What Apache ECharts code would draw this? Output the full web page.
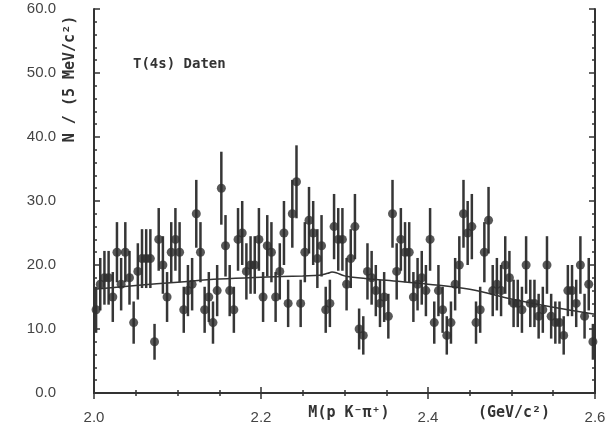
<!DOCTYPE html>
<html><head><meta charset="utf-8">
<script src="https://cdn.jsdelivr.net/npm/echarts@6/dist/echarts.min.js"></script>
<style>html,body{margin:0;padding:0;background:#fff}#c{width:610px;height:430px}</style>
</head><body><div id="c"></div>
<script>
// bin: 5 MeV, from 2.000 to 2.600 GeV
const binStart = 2.0;
const binWidth = 0.005;
const counts = [
13,17,18,18,15,22,17,22,18,11,
19,21,21,21,8,24,20,15,22,24,
22,13,16,17,28,22,13,15,11,16,
32,23,16,13,24,25,19,20,20,24,
15,23,22,15,19,25,14,28,33,14,
22,27,25,21,23,13,14,26,24,24,
17,21,26,10,9,19,18,16,14,15,
12,28,19,24,22,22,15,17,18,16,
24,11,16,13,9,11,17,20,28,25,
26,11,13,22,27,16,17,16,20,18,
14,14,13,20,14,14,12,13,20,12,
11,11,9,16,16,14,20,12,17,8];
const errors = [
3.6,4.1,4.2,4.2,3.9,4.7,4.1,4.7,4.2,3.3,
4.4,4.6,4.6,4.6,2.8,4.9,4.5,3.9,4.7,4.9,
4.7,3.6,4.0,4.1,5.3,4.7,3.6,3.9,3.3,4.0,
5.7,4.8,4.0,3.6,4.9,5.0,4.4,4.5,4.5,4.9,
3.9,4.8,4.7,3.9,4.4,5.0,3.7,5.3,5.7,3.7,
4.7,5.2,5.0,4.6,4.8,3.6,3.7,5.1,4.9,4.9,
4.1,4.6,5.1,3.2,3.0,4.4,4.2,4.0,3.7,3.9,
3.5,5.3,4.4,4.9,4.7,4.7,3.9,4.1,4.2,4.0,
4.9,3.3,4.0,3.6,3.0,3.3,4.1,4.5,5.3,5.0,
5.1,3.3,3.6,4.7,5.2,4.0,4.1,4.0,4.5,4.2,
3.7,3.7,3.6,4.5,3.7,3.7,3.5,3.6,4.5,3.5,
3.3,3.3,3.0,4.0,4.0,3.7,4.5,3.5,4.1,2.8];
// fitted background curve
const fitX = [2.0, 2.05, 2.1, 2.15, 2.2, 2.25, 2.27, 2.28, 2.285, 2.29, 2.30, 2.31, 2.35, 2.40, 2.45, 2.50, 2.55, 2.60];
const fitY = [16.2, 16.8, 17.3, 17.8, 18.1, 18.3, 18.4, 18.7, 18.9, 18.8, 18.3, 18.1, 17.6, 17.0, 16.2, 14.7, 13.4, 12.3];
const xTicks = [2.0, 2.2, 2.4, 2.6];
const yTicks = [0, 10, 20, 30, 40, 50, 60];

const pts = counts.map((v, i) => [+(binStart + binWidth * (i + 0.5)).toFixed(4), v, errors[i]]);
const fit = fitX.map((x, i) => [x, fitY[i]]);

const axisCol = '#333';
const labelFont = {fontFamily: 'Liberation Sans', fontSize: 15, color: '#444'};
const monoFont = 'bold 14px "DejaVu Sans Mono"';
const chart = echarts.init(document.getElementById('c'), null, {renderer: 'canvas'});
chart.setOption({
  animation: false,
  backgroundColor: '#fff',
  grid: {left: 94, right: 15, top: 9, bottom: 37},
  xAxis: [{
    type: 'value', min: xTicks[0], max: xTicks[xTicks.length - 1], interval: 0.2,
    axisLine: {lineStyle: {color: axisCol, width: 2}},
    axisTick: {inside: true, length: 6, lineStyle: {color: axisCol, width: 1.5}},
    minorTick: {show: true, splitNumber: 4, length: 3, lineStyle: {color: axisCol, width: 1.5}},
    splitLine: {show: false},
    axisLabel: Object.assign({margin: 17, formatter: v => v.toFixed(1)}, labelFont)
  }, {
    type: 'value', position: 'top', min: xTicks[0], max: xTicks[xTicks.length - 1], interval: 0.2,
    axisLine: {show: true, lineStyle: {color: axisCol, width: 2}},
    axisTick: {inside: true, length: 6, lineStyle: {color: axisCol, width: 1.5}},
    minorTick: {show: true, splitNumber: 4, length: 3, lineStyle: {color: axisCol, width: 1.5}},
    splitLine: {show: false}, axisLabel: {show: false}
  }],
  yAxis: [{
    type: 'value', min: yTicks[0], max: yTicks[yTicks.length - 1], interval: 10,
    axisLine: {show: true, lineStyle: {color: axisCol, width: 2}},
    axisTick: {show: true, inside: true, length: 6, lineStyle: {color: axisCol, width: 1.5}},
    minorTick: {show: true, splitNumber: 5, length: 3, lineStyle: {color: axisCol, width: 1.5}},
    splitLine: {show: false},
    axisLabel: Object.assign({margin: 38, formatter: v => v.toFixed(1)}, labelFont)
  }, {
    type: 'value', position: 'right', min: yTicks[0], max: yTicks[yTicks.length - 1], interval: 10,
    axisLine: {show: true, lineStyle: {color: axisCol, width: 2}},
    axisTick: {show: true, inside: true, length: 6, lineStyle: {color: axisCol, width: 1.5}},
    minorTick: {show: true, splitNumber: 5, length: 3, lineStyle: {color: axisCol, width: 1.5}},
    splitLine: {show: false}, axisLabel: {show: false}
  }],
  graphic: [
    {type: 'text', left: 133, top: 57, style: {text: 'T(4s) Daten', font: monoFont, fill: '#333'}},
    {type: 'text', x: 70, y: 79, rotation: Math.PI / 2, style: {text: 'N / (5 MeV/c²)', font: 'bold 15px "DejaVu Sans Mono"', fill: '#333', align: 'center', verticalAlign: 'middle'}},
    {type: 'text', x: 349, y: 413, style: {text: 'M(p K⁻π⁺)', font: 'bold 15px "DejaVu Sans Mono"', fill: '#333', align: 'center', verticalAlign: 'middle'}},
    {type: 'text', x: 514, y: 413, style: {text: '(GeV/c²)', font: 'bold 15px "DejaVu Sans Mono"', fill: '#333', align: 'center', verticalAlign: 'middle'}}
  ],
  series: [{
    type: 'line', data: fit, smooth: 0.4, showSymbol: false, symbol: 'none',
    lineStyle: {color: '#333', width: 1.5}, z: 2
  }, {
    type: 'custom', data: pts, z: 3,
    renderItem: function (params, api) {
      const x = api.value(0), y = api.value(1), e = api.value(2);
      const p1 = api.coord([x, y - e]), p2 = api.coord([x, y + e]);
      return {type: 'line', shape: {x1: p1[0], y1: p1[1], x2: p2[0], y2: p2[1]},
        style: {stroke: '#363636', lineWidth: 2.5}};
    }
  }, {
    type: 'scatter', data: pts.map(p => [p[0], p[1]]), symbol: 'circle', symbolSize: 9,
    itemStyle: {color: '#2e2e2e'}, z: 4
  }]
});
</script></body></html>
